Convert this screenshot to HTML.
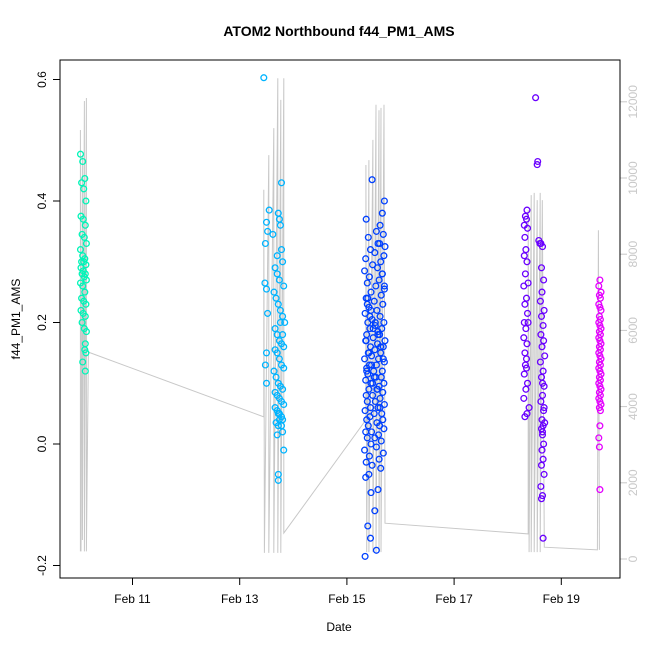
<!DOCTYPE html>
<html><head><meta charset="utf-8"><style>
html,body{margin:0;padding:0;background:#fff;}
svg text{font-family:"Liberation Sans",sans-serif;}
</style></head><body>
<svg id="chart" width="650" height="650" xmlns="http://www.w3.org/2000/svg">
<rect width="650" height="650" fill="#fff"/>
<text x="339" y="36" text-anchor="middle" font-size="14" font-weight="bold">ATOM2 Northbound f44_PM1_AMS</text>
<text x="339" y="631" text-anchor="middle" font-size="12">Date</text>
<text x="0" y="0" transform="translate(20,319) rotate(-90)" text-anchor="middle" font-size="12">f44_PM1_AMS</text>
<g id="gray"></g>
<g id="pts"></g>
<g id="axes"></g>
<rect x="60" y="60" width="560" height="518" fill="none" stroke="#000" stroke-width="1"/>
</svg>
<script>
const xTicks=[11,13,15,17,19];
const xTickLabels=["Feb 11","Feb 13","Feb 15","Feb 17","Feb 19"];
const yTicks=[-0.2,0.0,0.2,0.4,0.6];
const yTickLabels=["-0.2","0.0","0.2","0.4","0.6"];
const y2Ticks=[0,2000,4000,6000,8000,10000,12000];
const y2TickLabels=["0","2000","4000","6000","8000","10000","12000"];
const grayDays=[10.028,10.028,10.04,10.065,10.065,10.103,10.103,10.14,10.14,10.178,13.449,13.449,13.46,13.542,13.542,13.636,13.636,13.71,13.71,13.766,13.766,13.822,13.822,15.355,15.355,15.37,15.411,15.411,15.486,15.486,15.542,15.542,15.598,15.598,15.636,15.636,15.692,15.71,18.383,18.383,18.40,18.439,18.439,18.495,18.495,18.551,18.551,18.607,18.607,18.645,18.682,19.673,19.692,19.71];
const grayVals=[200,11260,200,10600,500,12020,200,12100,200,5430,3730,9690,160,10600,160,11310,160,12620,160,12050,160,12620,680,3650,10340,180,10470,180,11000,180,11920,180,11780,180,11840,180,11920,940,660,9160,180,9550,180,9610,180,9420,180,9610,180,9420,310,240,8630,240];
const c1Days=[10.03,10.07,10.11,10.05,10.09,10.13,10.04,10.08,10.12,10.06,10.10,10.14,10.03,10.07,10.11,10.05,10.09,10.13,10.04,10.08,10.12,10.06,10.10,10.14,10.03,10.07,10.11,10.05,10.09,10.13,10.04,10.08,10.12,10.06,10.10,10.14,10.12,10.11,10.13,10.07,10.12];
const c1Vals=[0.477,0.465,0.437,0.43,0.42,0.40,0.375,0.37,0.36,0.345,0.34,0.33,0.32,0.31,0.305,0.30,0.30,0.295,0.29,0.285,0.28,0.28,0.275,0.27,0.265,0.26,0.25,0.24,0.235,0.23,0.22,0.215,0.21,0.20,0.19,0.185,0.165,0.155,0.15,0.135,0.12];
const c2Days=[13.45,13.78,13.55,13.5,13.52,13.48,13.47,13.72,13.74,13.76,13.5,13.62,13.52,13.78,13.8,13.66,13.7,13.74,13.82,13.64,13.68,13.72,13.76,13.8,13.84,13.66,13.7,13.74,13.78,13.82,13.66,13.7,13.74,13.78,13.82,13.64,13.68,13.72,13.76,13.8,13.66,13.7,13.74,13.78,13.82,13.66,13.7,13.74,13.78,13.8,13.68,13.72,13.76,13.8,13.5,13.48,13.5,13.72,13.74,13.78,13.8,13.7,13.82,13.72,13.72,13.7];
const c2Vals=[0.603,0.43,0.385,0.365,0.35,0.33,0.265,0.38,0.37,0.36,0.255,0.345,0.215,0.32,0.30,0.29,0.28,0.27,0.26,0.25,0.24,0.23,0.22,0.21,0.20,0.19,0.18,0.17,0.165,0.16,0.155,0.15,0.14,0.13,0.125,0.12,0.11,0.10,0.095,0.09,0.085,0.08,0.075,0.07,0.065,0.06,0.055,0.05,0.045,0.04,0.035,0.03,0.2,0.18,0.15,0.13,0.10,0.05,0.04,0.03,0.02,0.015,-0.01,-0.05,-0.06,0.31];
const c3Days=[15.47,15.70,15.66,15.36,15.62,15.55,15.68,15.40,15.58,15.71,
15.44,15.52,15.69,15.35,15.63,15.48,15.57,15.33,15.66,15.42,
15.60,15.38,15.54,15.70,15.45,15.64,15.36,15.51,15.67,15.41,
15.56,15.34,15.62,15.47,15.69,15.39,15.53,15.65,15.43,15.58,
15.37,15.61,15.49,15.71,15.35,15.57,15.44,15.68,15.52,15.40,
15.63,15.46,15.33,15.59,15.70,15.42,15.55,15.37,15.66,15.50,
15.39,15.64,15.54,15.35,15.69,15.45,15.60,15.41,15.57,15.67,
15.48,15.36,15.62,15.53,15.38,15.70,15.44,15.58,15.34,15.65,
15.51,15.43,15.67,15.37,15.56,15.61,15.40,15.69,15.46,15.35,
15.59,15.52,15.38,15.64,15.45,15.55,15.33,15.68,15.42,15.60,
15.36,15.47,15.63,15.41,15.35,15.58,15.45,15.52,15.39,15.44,
15.55,15.34,15.38,15.43,15.49,15.36,15.41,15.46,15.51,15.56,
15.61,15.66,15.70,15.39,15.45,15.53,15.58,15.63,15.68,15.37,
15.48,15.62];
const c3Vals=[0.435,0.40,0.38,0.37,0.36,0.35,0.345,0.34,0.33,0.325,0.32,0.315,0.31,0.305,0.30,0.295,0.29,0.285,0.28,0.275,0.27,0.265,0.26,0.255,0.25,0.245,0.24,0.235,0.23,0.225,0.22,0.215,0.21,0.205,0.20,0.20,0.195,0.19,0.19,0.185,0.18,0.18,0.175,0.17,0.17,0.165,0.16,0.16,0.155,0.15,0.15,0.145,0.14,0.14,0.135,0.13,0.13,0.125,0.12,0.12,0.115,0.11,0.11,0.105,0.10,0.10,0.095,0.09,0.09,0.085,0.08,0.08,0.075,0.07,0.07,0.065,0.06,0.06,0.055,0.05,0.05,0.045,0.04,0.04,0.035,0.03,0.03,0.025,0.02,0.02,0.015,0.01,0.01,0.005,0.0,-0.005,-0.01,-0.015,-0.02,-0.025,-0.03,-0.035,-0.04,-0.05,-0.055,-0.075,-0.08,-0.11,-0.135,-0.155,-0.175,-0.185,0.23,0.21,0.19,0.17,0.15,0.13,0.11,0.09,0.33,0.28,0.26,0.24,0.22,0.2,0.18,0.16,0.14,0.12,0.1,0.06];
const c4Days=[18.52,18.56,18.55,18.36,18.33,18.35,18.31,18.37,18.32,18.60,
18.34,18.58,18.62,18.65,18.31,18.36,18.63,18.33,18.67,18.38,
18.30,18.64,18.35,18.61,18.32,18.68,18.37,18.63,18.31,18.66,
18.34,18.62,18.30,18.67,18.36,18.64,18.32,18.69,18.35,18.61,
18.33,18.66,18.31,18.63,18.37,18.68,18.34,18.65,18.30,18.62,
18.40,18.67,18.36,18.64,18.32,18.69,18.66,18.63,18.35,18.65,
18.67,18.64,18.66,18.63,18.68,18.65,18.62,18.65,18.63,18.66,
18.68,18.65,18.38];
const c4Vals=[0.57,0.465,0.46,0.385,0.375,0.37,0.36,0.355,0.34,0.33,0.32,0.335,0.33,0.325,0.31,0.30,0.29,0.28,0.27,0.265,0.26,0.25,0.24,0.235,0.23,0.22,0.215,0.21,0.2,0.195,0.19,0.18,0.175,0.17,0.165,0.16,0.15,0.145,0.14,0.135,0.13,0.12,0.115,0.11,0.1,0.095,0.09,0.08,0.075,0.07,0.06,0.055,0.05,0.04,0.045,0.035,0.03,0.025,0.125,0.02,0.0,-0.01,-0.025,-0.035,-0.05,0.015,-0.07,-0.085,-0.09,-0.155,0.06,0.1,0.2];
const c5Days=[19.72,19.7,19.74,19.71,19.73,19.7,19.72,19.74,19.71,19.73,19.7,19.72,19.74,19.71,19.73,19.7,19.72,19.74,19.71,19.73,19.7,19.72,19.74,19.71,19.73,19.7,19.72,19.74,19.71,19.73,19.7,19.72,19.74,19.71,19.73,19.7,19.72,19.74,19.71,19.73,19.72,19.7,19.71,19.72];
const c5Vals=[0.27,0.26,0.25,0.245,0.24,0.23,0.225,0.22,0.21,0.205,0.2,0.195,0.19,0.185,0.18,0.175,0.17,0.165,0.16,0.155,0.15,0.145,0.14,0.135,0.13,0.125,0.12,0.115,0.11,0.105,0.1,0.095,0.09,0.085,0.08,0.075,0.07,0.065,0.06,0.055,0.03,0.01,-0.005,-0.075];
const clusterColors=["#00F5B8","#00B4FF","#0040FF","#6A00FF","#E400FF"];

const NS="http://www.w3.org/2000/svg";
const xS=d=>132.5+(d-11)*53.6;
const yS=v=>444-v*607.5;
const y2S=v=>559-v*0.0381;
function mk(tag,attrs,parent){const e=document.createElementNS(NS,tag);for(const k in attrs)e.setAttribute(k,attrs[k]);parent.appendChild(e);return e;}

const gray=document.getElementById('gray');
const pl=mk('polyline',{points:grayDays.map((d,i)=>xS(d).toFixed(1)+','+y2S(grayVals[i]).toFixed(1)).join(' '),fill:'none',stroke:'#c8c8c8','stroke-width':1},gray);



const pts=document.getElementById('pts');
const clusters=[[c1Days,c1Vals],[c2Days,c2Vals],[c3Days,c3Vals],[c4Days,c4Vals],[c5Days,c5Vals]];
clusters.forEach((c,ci)=>{
  c[1].forEach((v,i)=>{
    const p=mk('circle',{cx:xS(c[0][i]).toFixed(1),cy:yS(v).toFixed(1),r:2.9,fill:'none',stroke:clusterColors[ci],'stroke-width':1.3},pts);
    
    
  });
});

const ax=document.getElementById('axes');
xTicks.forEach((t,i)=>{
  const l=mk('line',{x1:xS(t),x2:xS(t),y1:578,y2:585,stroke:'#000'},ax);
  
  
  const tx=mk('text',{x:xS(t),y:603,'text-anchor':'middle','font-size':12},ax);
  tx.textContent=xTickLabels[i];
  
  
});
yTicks.forEach((t,i)=>{
  const l=mk('line',{x1:53,x2:60,y1:yS(t),y2:yS(t),stroke:'#000'},ax);
  
  
  const tx=mk('text',{x:0,y:0,transform:`translate(46,${yS(t)}) rotate(-90)`,'text-anchor':'middle','font-size':12},ax);
  tx.textContent=yTickLabels[i];
  
  
});
mk('line',{x1:620,x2:620,y1:y2S(0),y2:y2S(12000),stroke:'#c8c8c8'},ax);
y2Ticks.forEach((t,i)=>{
  const l=mk('line',{x1:620,x2:627,y1:y2S(t),y2:y2S(t),stroke:'#c8c8c8'},ax);
  
  
  const tx=mk('text',{x:0,y:0,transform:`translate(637,${y2S(t)}) rotate(-90)`,'text-anchor':'middle','font-size':12,fill:'#c8c8c8'},ax);
  tx.textContent=y2TickLabels[i];
  
  
});
</script>
</body></html>
